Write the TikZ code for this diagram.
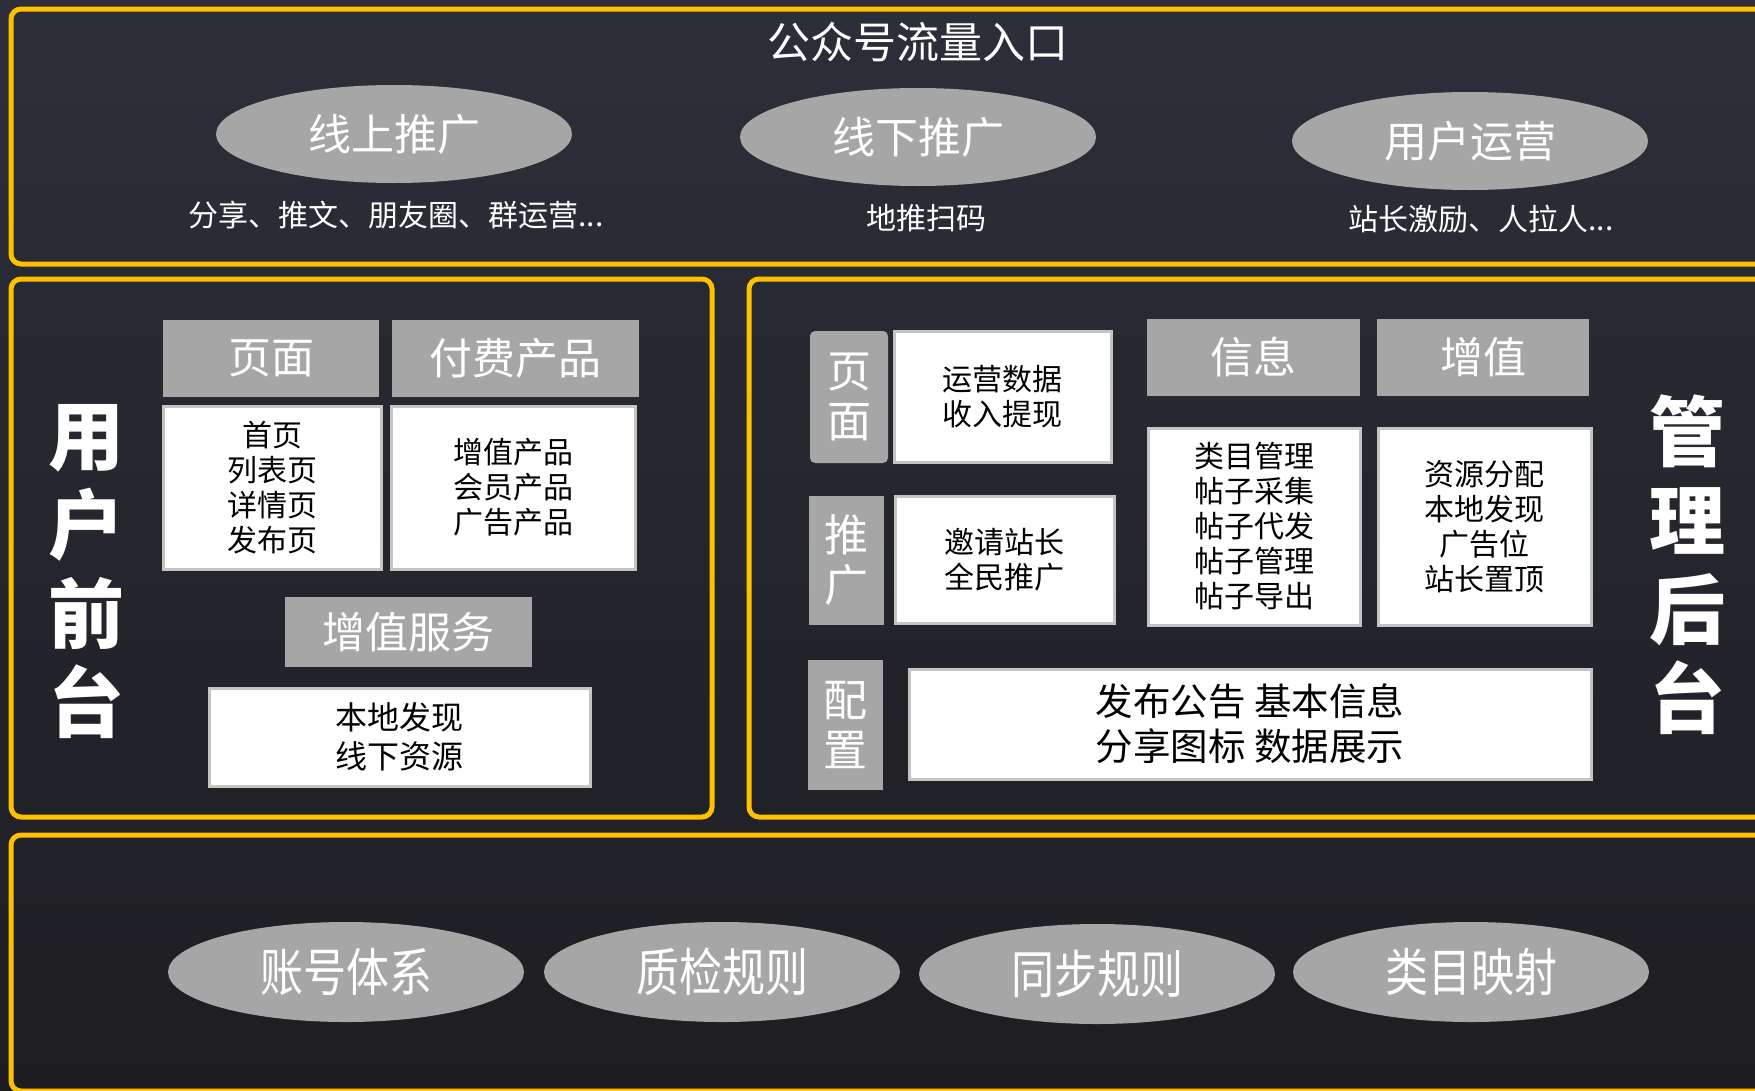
\documentclass[tikz,border=0pt]{standalone}
\usepackage{fontspec}
\setmainfont{Noto Sans CJK SC}
\usepackage{tikz}
\usetikzlibrary{shapes.geometric}
\definecolor{bgtop}{HTML}{2C2F3A}
\definecolor{bgbot}{HTML}{1D1D21}
\definecolor{frame}{HTML}{FFC000}
\definecolor{tile}{HTML}{A6A6A6}
\definecolor{tileline}{HTML}{C4C4C4}
\tikzset{
  vpanel/.style={draw=frame,line width=5pt,rounded corners=10pt},
  vhead/.style={fill=tile,text=white,inner sep=0pt,font=\fontsize{43}{50}\selectfont},
  vbody/.style={draw=tileline,line width=3pt,fill=white,text=black,align=center,inner sep=0pt,font=\fontsize{30}{35}\selectfont},
  vside/.style={fill=tile,text=white,align=center,inner sep=0pt,font=\fontsize{44}{50}\selectfont},
  voval/.style={ellipse,fill=tile,text=white,inner sep=0pt,minimum width=356pt,minimum height=98pt,font=\fontsize{43}{50}\selectfont},
  vnote/.style={text=white,font=\fontsize{30}{36}\selectfont},
  vtitle/.style={text=white,align=center,font=\fontsize{76}{89}\selectfont\bfseries}
}

\begin{document}
\begin{tikzpicture}[x=1pt,y=-1pt]
  \useasboundingbox (0,0) rectangle (1755,1090);
  \shade[top color=bgtop,bottom color=bgbot] (0,0) rectangle (1755,1090);
  % traffic entrance
  \draw[vpanel] (11,9) rectangle (1775,264);
  \node[text=white,font=\fontsize{43}{50}\selectfont] (entry) at (918,42) {公众号流量入口};
  \node[voval] (online) at (394,134) {线上推广};
  \node[voval] (offline) at (918,137) {线下推广};
  \node[voval] (userop) at (1470,141) {用户运营};
  \node[vnote] (onlinetxt) at (396,215) {分享、推文、朋友圈、群运营...};
  \node[vnote] (offlinetxt) at (926,218) {地推扫码};
  \node[vnote] (useroptxt) at (1481,219) {站长激励、人拉人...};
  % user front end
  \draw[vpanel] (11,279) rectangle (712,817);
  \node[vtitle] (front) at (86,572) {用\\户\\前\\台};
  \node[vhead,minimum width=216pt,minimum height=77pt] (hpage) at (271,358.5) {页面};
  \node[vhead,minimum width=247pt,minimum height=77pt] (hpaid) at (515.5,358.5) {付费产品};
  \node[vbody,minimum width=218pt,minimum height=163pt] (bpage) at (272,487.5) {首页\\列表页\\详情页\\发布页};
  \node[vbody,minimum width=244pt,minimum height=163pt] (bpaid) at (513,487.5) {增值产品\\会员产品\\广告产品};
  \node[vhead,minimum width=247pt,minimum height=70pt] (hvas) at (408.5,632) {增值服务};
  \node[vbody,minimum width=381pt,minimum height=98pt,font=\fontsize{32}{39}\selectfont] (bvas) at (399.5,737) {本地发现\\线下资源};
  % admin back end
  \draw[vpanel] (749,279) rectangle (1775,817);
  \node[vtitle] (admin) at (1687,565) {管\\理\\后\\台};
  \node[vside,rounded corners=5pt,minimum width=78pt,minimum height=132pt] (spage) at (849,397) {页\\面};
  \node[vbody,minimum width=217pt,minimum height=131pt] (bops) at (1002.5,396.5) {运营数据\\收入提现};
  \node[vside,minimum width=75pt,minimum height=129pt] (spromo) at (846.5,560.5) {推\\广};
  \node[vbody,minimum width=219pt,minimum height=127pt] (bpromo) at (1004.5,559.5) {邀请站长\\全民推广};
  \node[vside,minimum width=75pt,minimum height=130pt] (sconf) at (845.5,725) {配\\置};
  \node[vbody,minimum width=682pt,minimum height=110pt,font=\fontsize{37.5}{45}\selectfont] (bconf) at (1250,724) {发布公告 基本信息\\分享图标 数据展示};
  \node[vhead,minimum width=213pt,minimum height=77pt] (hinfo) at (1253.5,357.5) {信息};
  \node[vhead,minimum width=212pt,minimum height=77pt] (hvalue) at (1483,357.5) {增值};
  \node[vbody,minimum width=212pt,minimum height=197pt] (binfo) at (1254,526.5) {类目管理\\帖子采集\\帖子代发\\帖子管理\\帖子导出};
  \node[vbody,minimum width=213pt,minimum height=197pt] (bvalue) at (1484.5,526.5) {资源分配\\本地发现\\广告位\\站长置顶};
  % shared rules
  \draw[vpanel] (11,835) rectangle (1775,1091);
  \node[voval,minimum height=100pt] (account) at (346,972) {\scalebox{1}[1.2]{账号体系}};
  \node[voval,minimum height=100pt] (quality) at (722,972) {\scalebox{1}[1.2]{质检规则}};
  \node[voval,minimum height=100pt] (sync) at (1097,974) {\scalebox{1}[1.2]{同步规则}};
  \node[voval,minimum height=100pt] (catmap) at (1471,972) {\scalebox{1}[1.2]{类目映射}};
\end{tikzpicture}
\end{document}
